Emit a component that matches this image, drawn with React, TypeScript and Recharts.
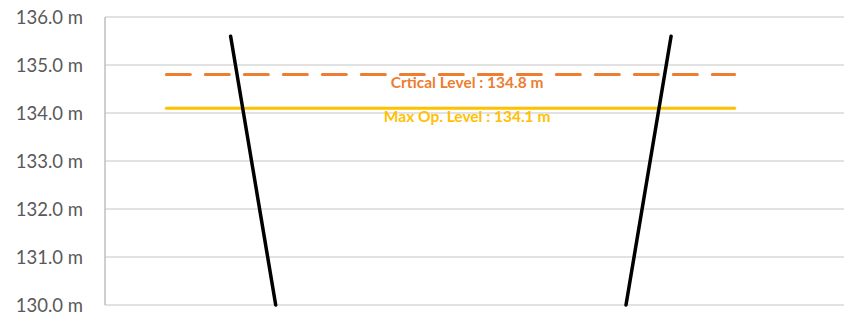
import {
  ComposedChart,
  Line,
  XAxis,
  YAxis,
  CartesianGrid,
  ReferenceDot,
} from "recharts";

// elevation ticks (m)
const yTicks = [130, 131, 132, 133, 134, 135, 136];

// embankment faces: [x, elevation]
const leftFace = [
  { x: 17, y: 135.6 },
  { x: 23.1, y: 130 },
];
const rightFace = [
  { x: 70.5, y: 130 },
  { x: 76.6, y: 135.6 },
];

// water levels
const criticalLevel = 134.8;
const maxOpLevel = 134.1;
const levelStart = 8.3;
const levelEnd = 85.2;
const labelX = 49;

const criticalLine = [
  { x: levelStart, y: criticalLevel },
  { x: levelEnd, y: criticalLevel },
];
const maxOpLine = [
  { x: levelStart, y: maxOpLevel },
  { x: levelEnd, y: maxOpLevel },
];

const ORANGE = "#ED7D31";
const YELLOW = "#FFC000";
const FONT = "Lato, 'Open Sans', sans-serif";

export default function App() {
  return (
    <div style={{ position: "absolute", left: 0, top: 0, background: "#fff" }}>
      <ComposedChart
        width={844}
        height={314}
        margin={{ top: 17, right: 0, left: 0, bottom: 9 }}
        style={{ fontFamily: FONT }}
      >
        <CartesianGrid vertical={false} stroke="#d9d9d9" strokeWidth={1.3} />
        <XAxis
          dataKey="x"
          type="number"
          domain={[0, 100]}
          allowDataOverflow
          height={0}
          tick={false}
          tickLine={false}
          axisLine={{ stroke: "#bfbfbf", strokeWidth: 1.5 }}
        />
        <YAxis
          type="number"
          domain={[130, 136]}
          ticks={yTicks}
          interval={0}
          width={105}
          tickLine={false}
          tickSize={0}
          tickMargin={22}
          axisLine={{ stroke: "#bfbfbf", strokeWidth: 1.5 }}
          tick={{ fill: "#595959", fontSize: 18.5 }}
          tickFormatter={(v: number) => `${v.toFixed(1)} m`}
        />
        <Line
          data={criticalLine}
          dataKey="y"
          stroke={ORANGE}
          strokeWidth={3}
          strokeDasharray="24 15"
          strokeLinecap="round"
          dot={false}
          isAnimationActive={false}
        />
        <Line
          data={maxOpLine}
          dataKey="y"
          stroke={YELLOW}
          strokeWidth={3}
          strokeLinecap="round"
          dot={false}
          isAnimationActive={false}
        />
        <Line
          data={leftFace}
          dataKey="y"
          stroke="#000"
          strokeWidth={3.5}
          strokeLinecap="round"
          dot={false}
          isAnimationActive={false}
        />
        <Line
          data={rightFace}
          dataKey="y"
          stroke="#000"
          strokeWidth={3.5}
          strokeLinecap="round"
          dot={false}
          isAnimationActive={false}
        />
        <ReferenceDot
          x={labelX}
          y={criticalLevel}
          r={0}
          stroke="none"
          label={{
            value: `Crtical Level : ${criticalLevel} m`,
            position: "bottom",
            offset: 2,
            fill: ORANGE,
            fontSize: 15.5,
            fontWeight: 700,
          }}
        />
        <ReferenceDot
          x={labelX}
          y={maxOpLevel}
          r={0}
          stroke="none"
          label={{
            value: `Max Op. Level : ${maxOpLevel} m`,
            position: "bottom",
            offset: 3,
            fill: YELLOW,
            fontSize: 15.5,
            fontWeight: 700,
          }}
        />
      </ComposedChart>
    </div>
  );
}
